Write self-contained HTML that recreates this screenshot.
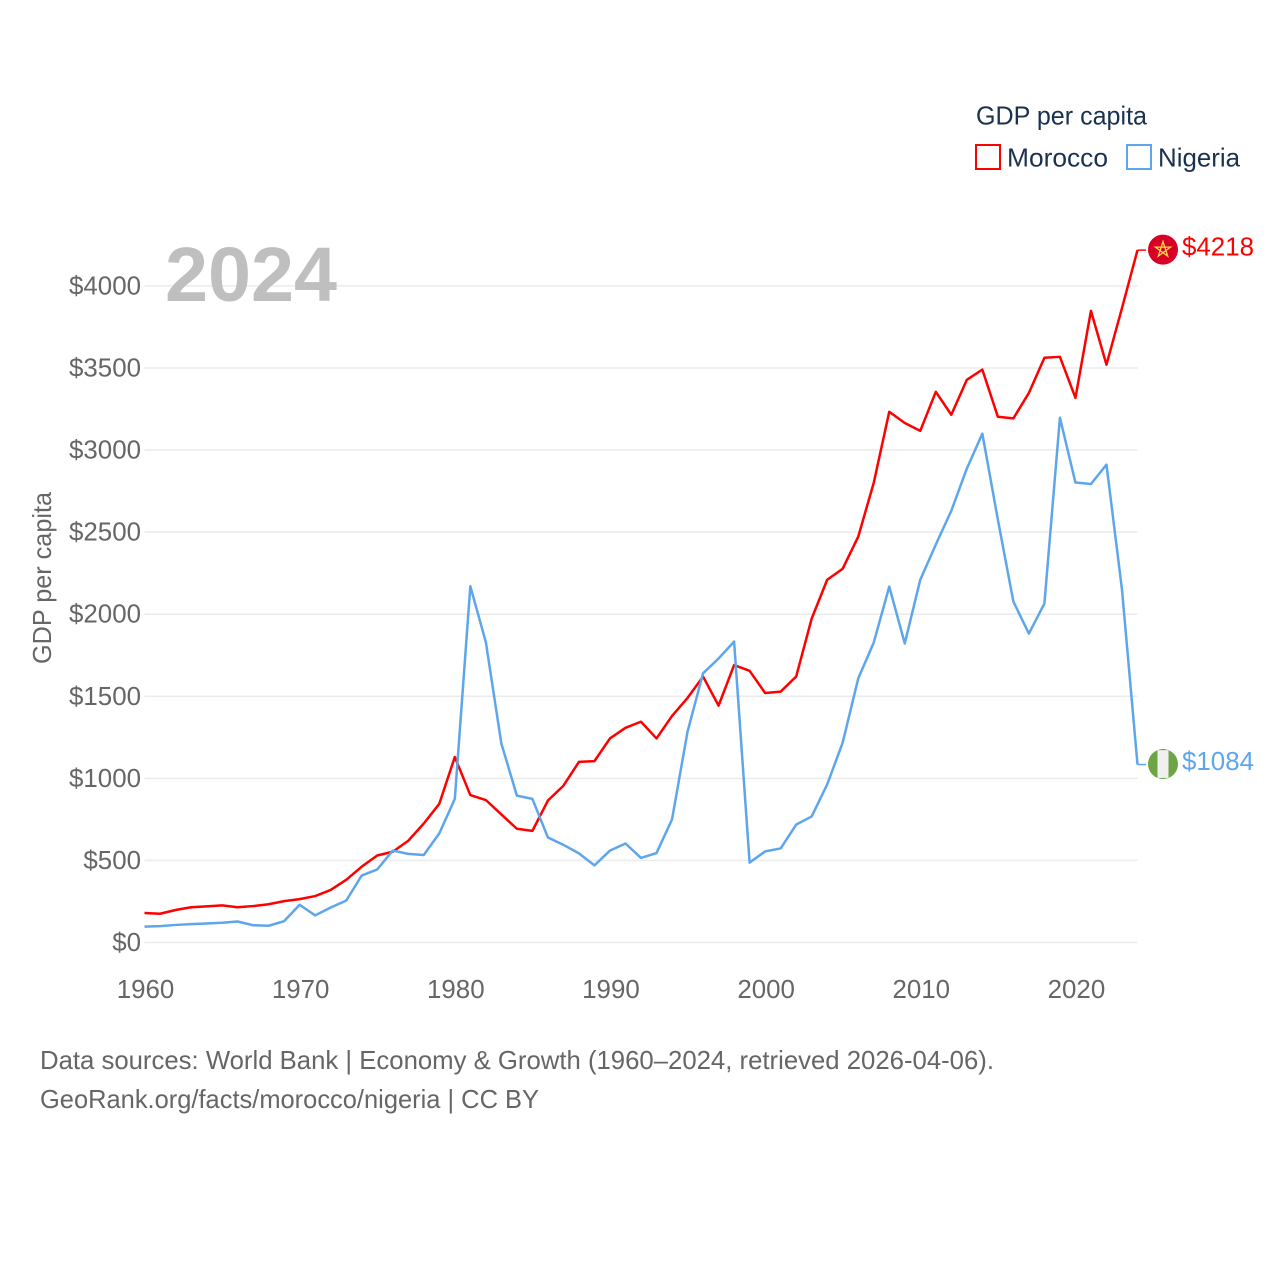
<!DOCTYPE html>
<html lang="en">
<head>
<meta charset="utf-8">
<title>GDP per capita: Morocco vs Nigeria</title>
<style>
html,body{margin:0;padding:0;background:#fff;}
svg{display:block;font-family:"Liberation Sans",sans-serif;}
</style>
</head>
<body>
<svg id="chart" xmlns="http://www.w3.org/2000/svg" width="1280" height="1280" viewBox="0 0 1280 1280">
  <rect width="1280" height="1280" fill="#fff"/>
  <g id="grid"></g>
  <g id="yticks"></g>
  <g id="xticks"></g>
  <text x="165" y="301" font-size="77" font-weight="bold" fill="#bfbfbf" textLength="172" lengthAdjust="spacingAndGlyphs">2024</text>
  <text transform="translate(51,578) rotate(-90)" text-anchor="middle" font-size="26" fill="#666" textLength="172" lengthAdjust="spacingAndGlyphs">GDP per capita</text>
  <g id="series"></g>
  <g id="end-labels"></g>
  <g>
    <text x="976" y="124.5" font-size="26" fill="#1a3150" textLength="171" lengthAdjust="spacingAndGlyphs">GDP per capita</text>
    <rect x="976" y="145" width="24" height="24" fill="none" stroke="#ff0000" stroke-width="2"/>
    <text x="1007" y="166.5" font-size="26" fill="#1a3150" textLength="101" lengthAdjust="spacingAndGlyphs">Morocco</text>
    <rect x="1127" y="145" width="24" height="24" fill="none" stroke="#5ea6ec" stroke-width="2"/>
    <text x="1158" y="166.5" font-size="26" fill="#1a3150" textLength="82" lengthAdjust="spacingAndGlyphs">Nigeria</text>
  </g>
  <text x="40" y="1069" font-size="26" fill="#666" textLength="954" lengthAdjust="spacingAndGlyphs">Data sources: World Bank | Economy &amp; Growth (1960–2024, retrieved 2026-04-06).</text>
  <text x="40" y="1108" font-size="26" fill="#666" textLength="499" lengthAdjust="spacingAndGlyphs">GeoRank.org/facts/morocco/nigeria | CC BY</text>
</svg>
<script>
const years = [1960,1961,1962,1963,1964,1965,1966,1967,1968,1969,1970,1971,1972,1973,1974,1975,1976,1977,1978,1979,1980,1981,1982,1983,1984,1985,1986,1987,1988,1989,1990,1991,1992,1993,1994,1995,1996,1997,1998,1999,2000,2001,2002,2003,2004,2005,2006,2007,2008,2009,2010,2011,2012,2013,2014,2015,2016,2017,2018,2019,2020,2021,2022,2023,2024];
const moroccoValues = [180,175,198,215,220,226,215,222,233,252,264,283,320,382,462,530,553,620,725,845,1130,898,868,780,693,680,865,955,1100,1105,1243,1308,1345,1243,1380,1490,1620,1443,1690,1655,1520,1528,1620,1973,2210,2277,2472,2800,3233,3165,3117,3355,3215,3428,3490,3203,3193,3348,3562,3568,3318,3848,3520,3865,4218];
const nigeriaValues = [97,100,107,112,116,120,128,105,102,130,230,165,213,255,408,445,560,540,533,665,875,2170,1830,1212,895,875,640,595,543,470,560,603,515,545,750,1285,1640,1730,1833,487,555,573,718,768,963,1218,1608,1827,2168,1822,2210,2424,2630,2887,3100,2576,2077,1882,2065,3197,2802,2793,2911,2150,1084];
const yTickValues = [0,500,1000,1500,2000,2500,3000,3500,4000];
const xTickValues = [1960,1970,1980,1990,2000,2010,2020];

const NS = 'http://www.w3.org/2000/svg';
const X0 = 144.5, X1 = 1137.5, Y0 = 942.5, PX_PER_DOLLAR = 0.16415;
const xScale = function (yr) { return X0 + (yr - 1960) * (X1 - X0) / 64; };
const yScale = function (v) { return Y0 - v * PX_PER_DOLLAR; };
function make(tag, attrs, parent) {
  const el = document.createElementNS(NS, tag);
  for (const k in attrs) el.setAttribute(k, attrs[k]);
  parent.appendChild(el);
  return el;
}
function labelText(parent, str, attrs) {
  const el = make('text', Object.assign({
    'font-size': 26,
    textLength: (str.length * 14.4).toFixed(1),
    lengthAdjust: 'spacingAndGlyphs'
  }, attrs), parent);
  el.textContent = str;
  return el;
}

const gridG = document.getElementById('grid');
const yTickG = document.getElementById('yticks');
const xTickG = document.getElementById('xticks');
const seriesG = document.getElementById('series');
const endG = document.getElementById('end-labels');

yTickValues.forEach(function (v) {
  const line = make('line', { x1: X0, x2: X1, y1: yScale(v), y2: yScale(v), stroke: '#ebebeb', 'stroke-width': 1.5 }, gridG);
  
  
  const t = labelText(yTickG, '$' + v, { x: 141, y: yScale(v) + 8.5, 'text-anchor': 'end', fill: '#666' });
  
  
});

xTickValues.forEach(function (yr) {
  const t = labelText(xTickG, String(yr), { x: xScale(yr) + 1, y: 998, 'text-anchor': 'middle', fill: '#666' });
  
  
});

function drawSeries(name, values, color) {
  const last = values.length - 1;
  const pts = values.map(function (v, i) { return xScale(years[i]).toFixed(2) + ',' + yScale(v).toFixed(2); });
  const path = make('polyline', { points: pts.join(' '), fill: 'none', stroke: color, 'stroke-width': 2.5, 'stroke-linejoin': 'round' }, seriesG);
  
  
  const ey = yScale(values[last]);
  const conn = make('line', { x1: X1, x2: 1146, y1: ey, y2: ey, stroke: color, 'stroke-width': 1.5 }, seriesG);
  
  
  const label = labelText(endG, '$' + values[last], { x: 1182, y: ey + 5.5, fill: color });
  
  
  return ey;
}

const redY = drawSeries('morocco', moroccoValues, '#ff0000');
const blueY = drawSeries('nigeria', nigeriaValues, '#5ea6ec');

const maFlag = make('g', { transform: 'translate(1163,' + (redY - 0.5) + ')' }, endG);


make('circle', { r: 15, fill: '#d80027' }, maFlag);
make('polygon', { points: '0,-8 4.7,6.5 -7.6,-2.5 7.6,-2.5 -4.7,6.5', fill: 'none', stroke: '#ffda44', 'stroke-width': 1.3 }, maFlag);

const ngFlag = make('g', { transform: 'translate(1163,' + (blueY - 0.5) + ')' }, endG);


make('circle', { r: 15, fill: '#6da544' }, ngFlag);
make('rect', { x: -5.5, y: -13.9, width: 11, height: 27.8, fill: '#f0f0f0' }, ngFlag);
</script>
</body>
</html>
